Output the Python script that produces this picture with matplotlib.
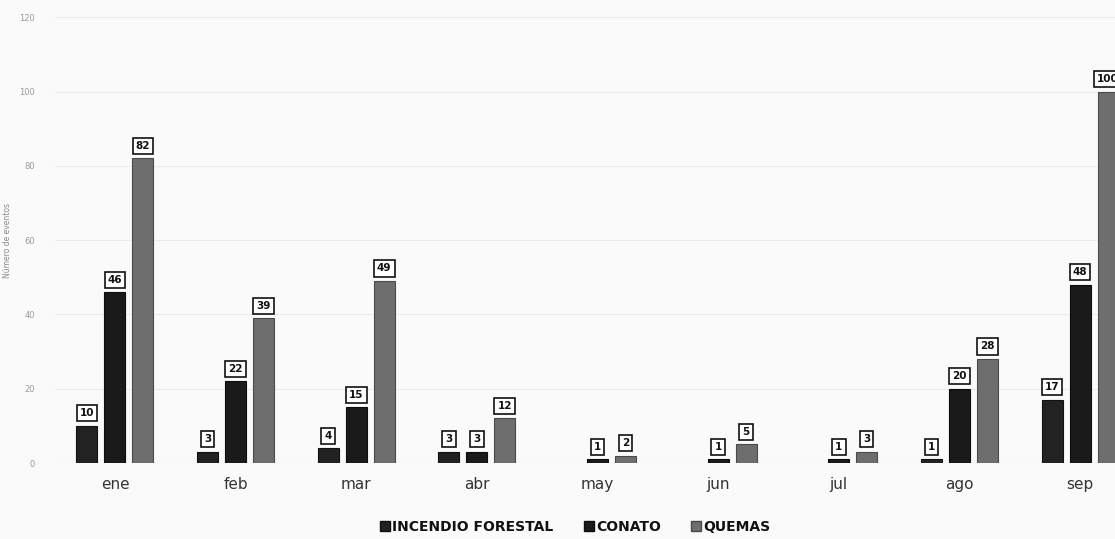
import matplotlib
matplotlib.use("Agg")
import matplotlib.pyplot as plt
import numpy as np
from matplotlib.patches import Patch

months = ["ene", "feb", "mar", "abr", "may", "jun", "jul", "ago", "sep"]
series_names = ["INCENDIO FORESTAL", "CONATO", "QUEMAS"]
incendio = [10, 3, 4, 3, 0, 0, 0, 1, 17]
conato = [46, 22, 15, 3, 1, 1, 1, 20, 48]
quemas = [82, 39, 49, 12, 2, 5, 3, 28, 100]
yticks = [0, 20, 40, 60, 80, 100, 120]

colors = ["#222222", "#1a1a1a", "#6e6e6e"]
edge = ["#111111", "#0d0d0d", "#4a4a4a"]

fig = plt.figure(figsize=(11.15, 5.39), dpi=100)
fig.patch.set_facecolor("#fafafa")
ax = fig.add_axes([0.049, 0.141, 0.951, 0.827])
ax.set_facecolor("#fafafa")

x = np.arange(len(months))
stride = 0.232
width = 0.174
for k, vals in enumerate([incendio, conato, quemas]):
    pos = x + (k - 1) * stride
    vals_arr = np.array(vals, dtype=float)
    mask = vals_arr > 0
    ax.bar(pos[mask], vals_arr[mask], width=width, color=colors[k], edgecolor=edge[k],
           linewidth=0.8, zorder=3)
    for p, v in zip(pos[mask], vals_arr[mask]):
        ax.annotate(str(int(v)), (p, v), xytext=(0, 9), textcoords="offset points",
                    ha="center", va="center", fontsize=7.5, fontweight="bold",
                    color="#111111", zorder=5,
                    bbox=dict(boxstyle="square,pad=0.3", fc="white", ec="#111111", lw=1.2))

ax.set_xlim(-0.5, 8.29)
ax.set_ylim(0, 120)
ax.set_yticks(yticks)
ax.set_yticklabels([str(t) for t in yticks], fontsize=6, color="#9a9a9a")
ax.set_xticks(x)
ax.set_xticklabels(months, fontsize=11, color="#333333")
ax.tick_params(axis="y", length=0, pad=14)
ax.tick_params(axis="x", length=0, pad=10)
ax.grid(axis="y", color="#ececec", linewidth=0.8, zorder=0)
for s in ax.spines.values():
    s.set_visible(False)
ax.axhline(0, color="#d8d8d8", linewidth=0.8, zorder=2)
ax.set_ylabel("Número de eventos", fontsize=5.5, color="#8a8a8a")
ax.yaxis.set_label_coords(-0.040, 0.5)

handles = [Patch(facecolor=colors[i], edgecolor=edge[i]) for i in range(3)]
leg = fig.legend(handles, series_names, loc="center", bbox_to_anchor=(0.516, 0.022),
                 ncol=3, frameon=False, handlelength=0.7, handleheight=0.7,
                 handletextpad=0.15, columnspacing=2.2,
                 prop={"size": 10, "weight": "bold"})
for t in leg.get_texts():
    t.set_color("#111111")

fig.savefig("out.png", dpi=100, facecolor=fig.get_facecolor())
